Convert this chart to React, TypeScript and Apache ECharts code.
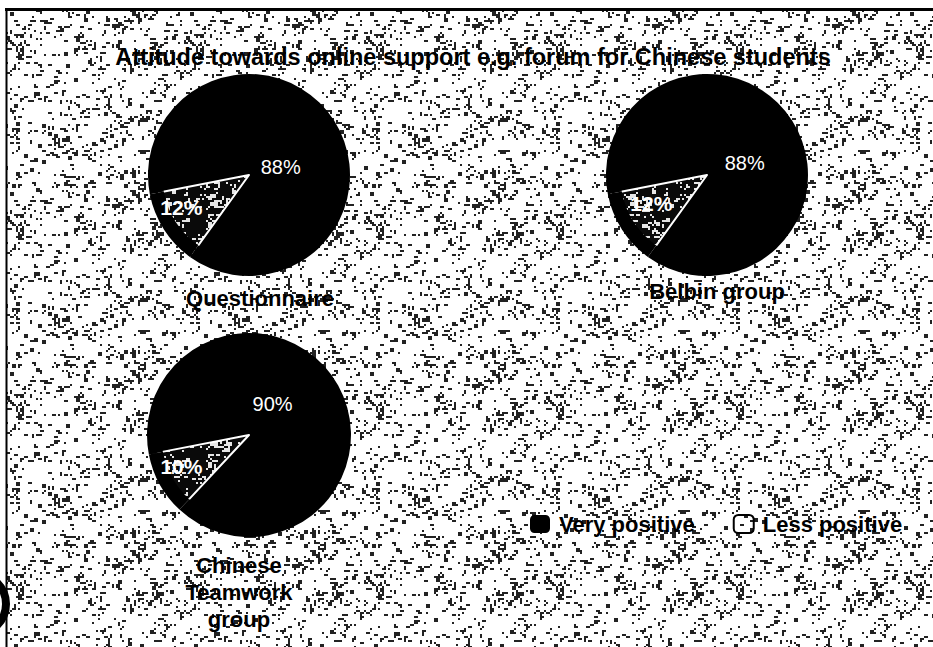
import React, { useEffect, useRef } from 'react';
import * as echarts from 'echarts';

// ---- data -------------------------------------------------------------
const chartTitle = 'Attitude towards online support e.g. forum for Chinese students';
const categories = ['Very positive', 'Less positive'];
const groups = ['Questionnaire', 'Belbin group', 'Chinese\nTeamwork\ngroup'];
const veryPositive = [88, 88, 90];
const lessPositive = [12, 12, 10];

// ---- layout & style ---------------------------------------------------
const FONT = '"Liberation Sans", Arial, Helvetica, sans-serif';
const PIE_CENTERS = [[249, 175], [707, 175], [249, 435]];
const PIE_RADII = [101, 101, 102];
const CAPTION_POS = [[260, 298], [717, 291], [239, 592]];
// nudges applied to the rim labels: [big slice, small slice] as [dx, dy]
const LABEL_NUDGE = [
  [[-50, 44], [14, -20]],
  [[-44, 40], [26, -24]],
  [[-62, 16], [18, -16]],
];
const START_ANGLE = 191;
const WEDGE_RATIO = 0.88;

// deterministic integer hash -> [0,1) used for the stippled paper texture
function hash(x: number, y: number, seed: number): number {
  let h = Math.imul(x, 374761393) + Math.imul(y, 668265263) + Math.imul(seed, 2246822519);
  h = Math.imul(h ^ (h >>> 13), 1274126177);
  h = h ^ (h >>> 16);
  return (h >>> 0) / 4294967296;
}

// stipple tile with patchy (clustered) dot density; wraps seamlessly
function stippleTile(size: number, cell: number, density: number, ink: string, paper: string, seed: number) {
  const c = document.createElement('canvas');
  c.width = size;
  c.height = size;
  const ctx = c.getContext('2d')!;
  ctx.fillStyle = paper;
  ctx.fillRect(0, 0, size, size);
  ctx.fillStyle = ink;
  const cells = size / cell;
  const node = (a: number, b: number) =>
    hash(((a % cells) + cells) % cells, ((b % cells) + cells) % cells, seed + 31);
  const coarse = (x: number, y: number) => {
    const gx = x / cell;
    const gy = y / cell;
    const x0 = Math.floor(gx);
    const y0 = Math.floor(gy);
    const fx = gx - x0;
    const fy = gy - y0;
    const top = node(x0, y0) * (1 - fx) + node(x0 + 1, y0) * fx;
    const bot = node(x0, y0 + 1) * (1 - fx) + node(x0 + 1, y0 + 1) * fx;
    return top * (1 - fy) + bot * fy;
  };
  for (let y = 0; y < size; y += 2) {
    for (let x = 0; x < size; x += 2) {
      const v = coarse(x, y);
      const d = density * (0.2 + 1.7 * v * v);
      if (hash(x, y, seed) < d) {
        const w = hash(y, x, seed + 7) < 0.4 ? 4 : 2;
        const h = hash(x + 1, y + 3, seed + 13) < 0.2 ? 4 : 2;
        ctx.fillRect(x, y, Math.min(w, size - x), Math.min(h, size - y));
      }
    }
  }
  return c;
}

export default function App() {
  const ref = useRef<HTMLDivElement>(null);

  useEffect(() => {
    if (!ref.current) return;
    const chart = echarts.init(ref.current, null, { renderer: 'svg' });

    const paperTile = stippleTile(180, 9, 0.14, '#222222', '#ffffff', 3);
    const wedgeTile = stippleTile(60, 10, 0.16, '#e6e6e6', '#0a0a0a', 11);
    const paperPattern = { image: paperTile, repeat: 'repeat', imageWidth: 180, imageHeight: 180 };
    const wedgePattern = { image: wedgeTile, repeat: 'repeat', imageWidth: 60, imageHeight: 60 };

    const series: any[] = [];
    groups.forEach((g, i) => {
      const values = [veryPositive[i], lessPositive[i]];
      const r = PIE_RADII[i];
      // inner pie carrying the light wedge
      series.push({
        type: 'pie',
        name: g,
        center: PIE_CENTERS[i],
        radius: r * WEDGE_RATIO,
        startAngle: START_ANGLE,
        clockwise: true,
        silent: true,
        z: 2,
        label: { show: false },
        labelLine: { show: false },
        data: categories.map((name, k) => ({
          name,
          value: values[k],
          itemStyle:
            k === 0
              ? { color: '#000', borderWidth: 0 }
              : { color: wedgePattern, borderColor: '#ffffff', borderWidth: 2 },
        })),
      });
      // outer black rim of the same pie, which also carries the percentage labels
      series.push({
        type: 'pie',
        name: g + ' rim',
        center: PIE_CENTERS[i],
        radius: [r * (WEDGE_RATIO - 0.02), r],
        startAngle: START_ANGLE,
        clockwise: true,
        silent: true,
        avoidLabelOverlap: false,
        z: 3,
        data: categories.map((name, k) => ({
          name,
          value: values[k],
          itemStyle: { color: '#000', borderWidth: 0 },
          label:
            k === 0
              ? { fontWeight: 'normal', fontSize: 20 }
              : { fontWeight: 'bold', fontSize: 21 },
        })),
        label: {
          show: true,
          position: 'inside',
          formatter: '{c}%',
          color: '#ffffff',
          fontFamily: FONT,
          fontSize: 20,
          textBorderWidth: 0,
        },
        labelLine: { show: false },
        labelLayout: (p: any) => {
          const n = LABEL_NUDGE[i][p.dataIndex];
          return { dx: n[0], dy: n[1] };
        },
      });
    });

    const captions = groups.map((g, i) => ({
      type: 'text',
      x: CAPTION_POS[i][0],
      y: CAPTION_POS[i][1],
      silent: true,
      z: 10,
      style: {
        text: g,
        align: 'center',
        verticalAlign: 'middle',
        fontFamily: FONT,
        fontSize: 22,
        fontWeight: 'bold',
        lineHeight: 27,
        fill: '#000',
      },
    }));

    chart.setOption({
      animation: false,
      backgroundColor: '#ffffff',
      title: {
        text: chartTitle,
        left: 468,
        top: 40,
        textAlign: 'center',
        textStyle: { fontFamily: FONT, fontSize: 23.5, fontWeight: 'bold', color: '#000' },
      },
      legend: {
        left: 525,
        top: 508,
        orient: 'horizontal',
        itemWidth: 20,
        itemHeight: 18,
        itemGap: 38,
        icon: 'roundRect',
        selectedMode: false,
        textStyle: {
          fontFamily: FONT,
          fontSize: 22,
          fontWeight: 'bold',
          color: '#000',
          padding: [0, 0, 0, 4],
        },
        data: [
          { name: categories[0], itemStyle: { color: '#000', borderWidth: 0 } },
          { name: categories[1], itemStyle: { color: 'rgba(0,0,0,0)', borderColor: '#000', borderWidth: 2 } },
        ],
      },
      graphic: [
        {
          type: 'rect',
          silent: true,
          z: 0,
          shape: { x: 7, y: 9, width: 926, height: 638 },
          style: { fill: paperPattern },
        },
        {
          type: 'line',
          silent: true,
          shape: { x1: 5, y1: 9.5, x2: 933, y2: 9.5 },
          style: { stroke: '#000', lineWidth: 3 },
        },
        {
          type: 'line',
          silent: true,
          shape: { x1: 6.5, y1: 8, x2: 6.5, y2: 647 },
          style: { stroke: '#000', lineWidth: 2 },
        },
        {
          type: 'arc',
          silent: true,
          shape: { cx: -24, cy: 604, r: 30, startAngle: -Math.PI / 2, endAngle: Math.PI / 2 },
          style: { stroke: '#000', lineWidth: 8, fill: null },
        },
        ...captions,
      ],
      series,
    });

    return () => chart.dispose();
  }, []);

  return (
    <div
      ref={ref}
      style={{ position: 'absolute', left: 0, top: 0, width: 933, height: 647, background: '#fff' }}
    />
  );
}
